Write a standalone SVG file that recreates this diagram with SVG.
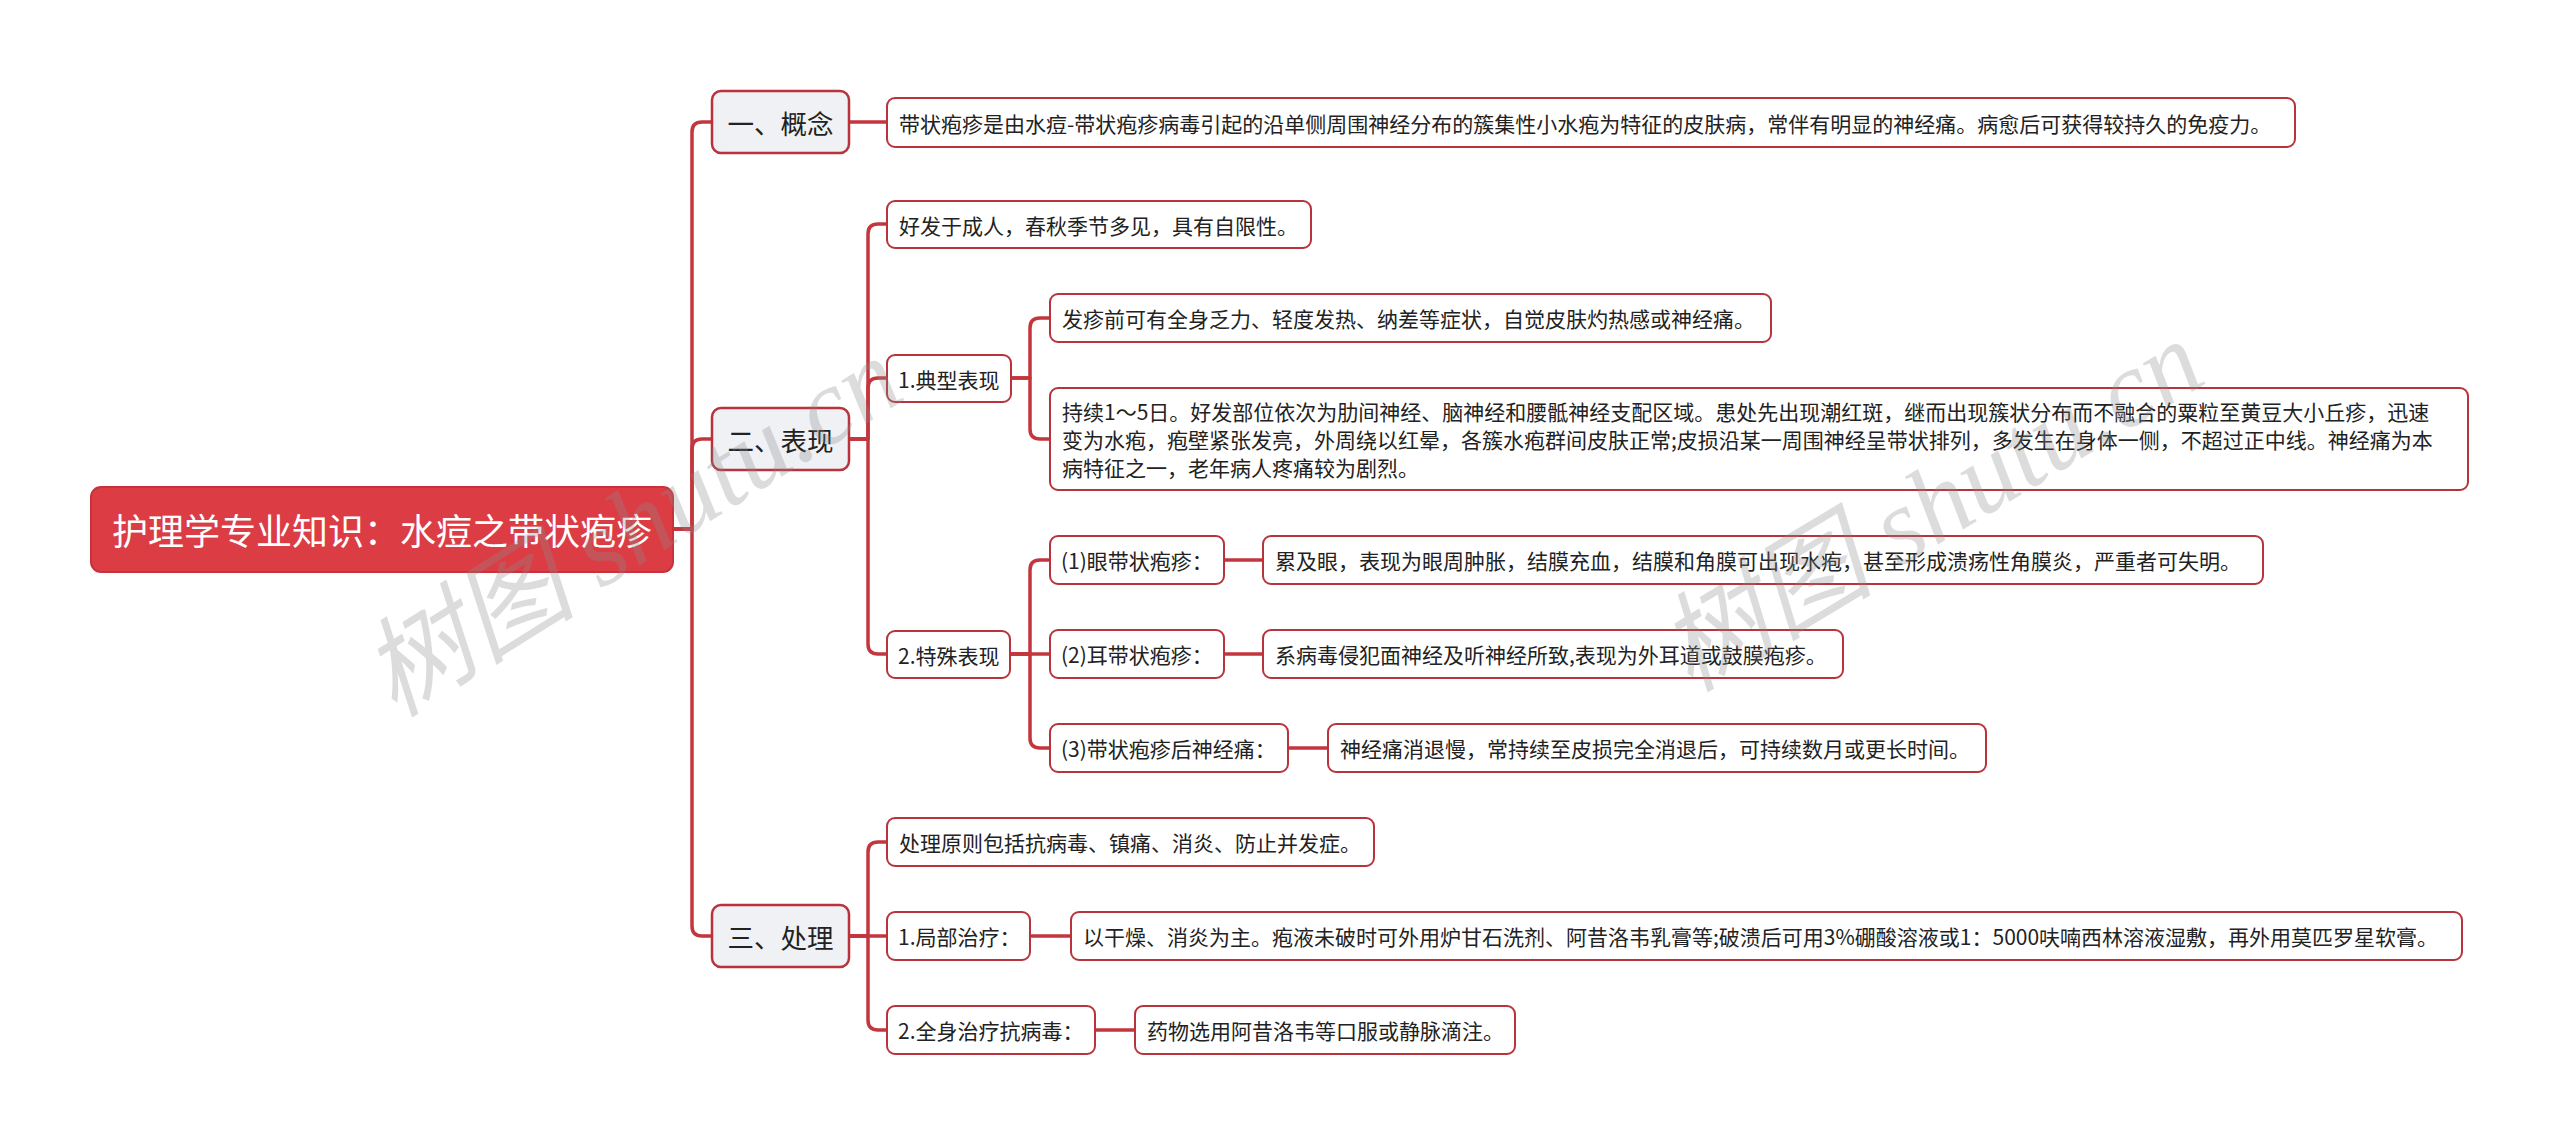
<svg xmlns="http://www.w3.org/2000/svg" width="2560" height="1145" viewBox="0 0 2560 1145">
<style>
.bg{fill:#ffffff}
.link{fill:none;stroke:#c4363e;stroke-width:3.5;stroke-linejoin:round;stroke-linecap:round}
.root rect{fill:#dc3d45;stroke:#c9323a;stroke-width:2}
.root text{fill:#ffffff;font-size:36px}
.l1 rect{fill:#eff1f5;stroke:#b8333b;stroke-width:2.5}
.l1 text{fill:#222222;font-size:26.5px}
.n rect{fill:#ffffff;stroke:#b8333b;stroke-width:2}
.n text{fill:#222222;font-size:21px}
text{font-family:"Noto Sans CJK SC","Microsoft YaHei","Noto Sans",sans-serif;dominant-baseline:central}
.wm{font-family:"Liberation Serif","Noto Sans CJK SC",serif;font-style:italic;font-size:108px;fill:#8a8a8a;fill-opacity:0.3;text-anchor:middle;dominant-baseline:central}
</style>
<rect class="bg" x="0" y="0" width="2560" height="1145"/>
<g id="connectors">
<path class="link" d="M673 529 H692 V132 Q692 122 702 122 H712"/>
<path class="link" d="M673 529 H692 V449 Q692 439 702 439 H712"/>
<path class="link" d="M673 529 H692 V926 Q692 936 702 936 H712"/>
<path class="link" d="M849 122 H887"/>
<path class="link" d="M849 439 H868 V234 Q868 224 878 224 H887"/>
<path class="link" d="M849 439 H868 V388 Q868 378 878 378 H887"/>
<path class="link" d="M849 439 H868 V644 Q868 654 878 654 H887"/>
<path class="link" d="M1011 378 H1030 V328 Q1030 318 1040 318 H1050"/>
<path class="link" d="M1011 378 H1030 V429 Q1030 439 1040 439 H1050"/>
<path class="link" d="M1010 654 H1030 V570 Q1030 560 1040 560 H1050"/>
<path class="link" d="M1010 654 H1050"/>
<path class="link" d="M1010 654 H1030 V738 Q1030 748 1040 748 H1050"/>
<path class="link" d="M1224 560 H1263"/>
<path class="link" d="M1224 654 H1263"/>
<path class="link" d="M1288 748 H1328"/>
<path class="link" d="M849 936 H868 V852 Q868 842 878 842 H887"/>
<path class="link" d="M849 936 H887"/>
<path class="link" d="M849 936 H868 V1020 Q868 1030 878 1030 H887"/>
<path class="link" d="M1030 936 H1071"/>
<path class="link" d="M1095 1030 H1135"/>
</g>
<g id="root" class="root"><rect x="91" y="487" width="582" height="85" rx="10"/><text x="382" y="529" text-anchor="middle">护理学专业知识：水痘之带状疱疹</text></g>
<g id="n-gainian" class="l1"><rect x="712" y="91" width="137" height="62" rx="9"/><text x="780.5" y="122" text-anchor="middle">一、概念</text></g>
<g id="n-biaoxian" class="l1"><rect x="712" y="408" width="137" height="62" rx="9"/><text x="780.5" y="439" text-anchor="middle">二、表现</text></g>
<g id="n-chuli" class="l1"><rect x="712" y="905" width="137" height="62" rx="9"/><text x="780.5" y="936" text-anchor="middle">三、处理</text></g>
<g id="n-gainian-1" class="n"><rect x="887" y="98" width="1408" height="49" rx="8"/><text x="899" y="122.5">带状疱疹是由水痘-带状疱疹病毒引起的沿单侧周围神经分布的簇集性小水疱为特征的皮肤病，常伴有明显的神经痛。病愈后可获得较持久的免疫力。</text></g>
<g id="n-bx-1" class="n"><rect x="887" y="201" width="424" height="47" rx="8"/><text x="899" y="224.5">好发于成人，春秋季节多见，具有自限性。</text></g>
<g id="n-bx-2" class="n"><rect x="887" y="355" width="124" height="47" rx="8"/><text x="898" y="378.5">1.典型表现</text></g>
<g id="n-bx-2a" class="n"><rect x="1050" y="294" width="721" height="48" rx="8"/><text x="1062" y="318">发疹前可有全身乏力、轻度发热、纳差等症状，自觉皮肤灼热感或神经痛。</text></g>
<g id="n-bx-2b" class="n"><rect x="1050" y="388" width="1418" height="102" rx="8"/><text x="1062" y="411">持续1～5日。好发部位依次为肋间神经、脑神经和腰骶神经支配区域。患处先出现潮红斑，继而出现簇状分布而不融合的粟粒至黄豆大小丘疹，迅速</text><text x="1062" y="439">变为水疱，疱壁紧张发亮，外周绕以红晕，各簇水疱群间皮肤正常;皮损沿某一周围神经呈带状排列，多发生在身体一侧，不超过正中线。神经痛为本</text><text x="1062" y="467">病特征之一，老年病人疼痛较为剧烈。</text></g>
<g id="n-bx-3" class="n"><rect x="887" y="631" width="123" height="47" rx="8"/><text x="898" y="654.5">2.特殊表现</text></g>
<g id="n-bx-3a" class="n"><rect x="1050" y="536" width="174" height="48" rx="8"/><text x="1061" y="560">(1)眼带状疱疹：</text></g>
<g id="n-bx-3a-t" class="n"><rect x="1263" y="536" width="1000" height="48" rx="8"/><text x="1275" y="560">累及眼，表现为眼周肿胀，结膜充血，结膜和角膜可出现水疱，甚至形成溃疡性角膜炎，严重者可失明。</text></g>
<g id="n-bx-3b" class="n"><rect x="1050" y="630" width="174" height="48" rx="8"/><text x="1061" y="654">(2)耳带状疱疹：</text></g>
<g id="n-bx-3b-t" class="n"><rect x="1263" y="630" width="580" height="48" rx="8"/><text x="1275" y="654">系病毒侵犯面神经及听神经所致,表现为外耳道或鼓膜疱疹。</text></g>
<g id="n-bx-3c" class="n"><rect x="1050" y="724" width="238" height="48" rx="8"/><text x="1061" y="748">(3)带状疱疹后神经痛：</text></g>
<g id="n-bx-3c-t" class="n"><rect x="1328" y="724" width="658" height="48" rx="8"/><text x="1340" y="748">神经痛消退慢，常持续至皮损完全消退后，可持续数月或更长时间。</text></g>
<g id="n-cl-1" class="n"><rect x="887" y="818" width="487" height="48" rx="8"/><text x="899" y="842">处理原则包括抗病毒、镇痛、消炎、防止并发症。</text></g>
<g id="n-cl-2" class="n"><rect x="887" y="912" width="143" height="48" rx="8"/><text x="898" y="936">1.局部治疗：</text></g>
<g id="n-cl-2-t" class="n"><rect x="1071" y="912" width="1391" height="48" rx="8"/><text x="1083" y="936">以干燥、消炎为主。疱液未破时可外用炉甘石洗剂、阿昔洛韦乳膏等;破溃后可用3%硼酸溶液或1：5000呋喃西林溶液湿敷，再外用莫匹罗星软膏。</text></g>
<g id="n-cl-3" class="n"><rect x="887" y="1006" width="208" height="48" rx="8"/><text x="898" y="1030">2.全身治疗抗病毒：</text></g>
<g id="n-cl-3-t" class="n"><rect x="1135" y="1006" width="380" height="48" rx="8"/><text x="1147" y="1030">药物选用阿昔洛韦等口服或静脉滴注。</text></g>
<g id="watermarks">
<text class="wm" transform="translate(632 527) rotate(-32)">树图 shutu.cn</text>
<text class="wm" transform="translate(1931 506) rotate(-31)">树图 shutu.cn</text>
</g>
</svg>
